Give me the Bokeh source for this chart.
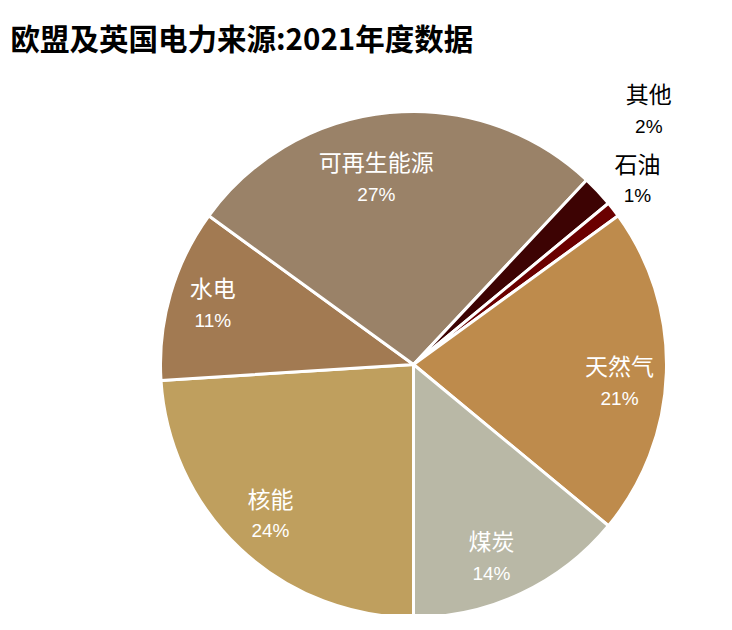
import numpy as np
from bokeh.plotting import figure
from bokeh.models import Range1d, Label, ColumnDataSource
from bokeh.embed import file_html
from bokeh.resources import INLINE
from bokeh.core.properties import value

# ---------------- data ----------------
title_text = "欧盟及英国电力来源:2021年度数据"
categories = ["核能", "水电", "可再生能源", "其他", "石油", "天然气", "煤炭"]
shares = [24, 11, 27, 2, 1, 21, 14]
colors = ["#BF9F5E", "#A27A52", "#9A8268", "#3D0303", "#6B0000", "#BE8B4C", "#B9B8A6"]
outside = ["其他", "石油"]

# ---------------- geometry / style ----------------
W, H = 716, 614
CX, CY = 413, 250          # pie centre (data units = px)
R = 253
START_CLOCK = 180          # first slice starts at 6 o'clock, going clockwise
LABEL_R = 209
LABEL_TWEAK = {"可再生能源": (188, -6.0), "天然气": (207, 3.7), "煤炭": (210, 3.4),
               "其他": (345, -3.8), "石油": (289, -1.4)}

vals = np.array(shares, dtype=float)
frac = vals / vals.sum()
c_end = START_CLOCK + np.cumsum(frac) * 360.0
c_start = c_end - frac * 360.0
start_ang = np.radians(90.0 - c_end)
end_ang = np.radians(90.0 - c_start)

src = ColumnDataSource(dict(cat=categories, start=start_ang, end=end_ang, color=colors))

p = figure(width=W, height=H, x_range=Range1d(0, W), y_range=Range1d(0, H),
           x_axis_type=None, y_axis_type=None, toolbar_location=None,
           output_backend="svg", min_border=0, outline_line_color=None)
p.grid.visible = False

p.wedge(x=CX, y=CY, radius=R, start_angle="start", end_angle="end",
        direction="anticlock", fill_color="color", line_color="white",
        line_width=3, source=src)

lx, ly, names, pcts, tcol = [], [], [], [], []
for cat, s, a, b in zip(categories, shares, c_start, c_end):
    mid = (a + b) / 2.0
    r, d = LABEL_TWEAK.get(cat, (LABEL_R, 0.0))
    ang = np.radians(mid + d)
    lx.append(CX + r * np.sin(ang))
    ly.append(CY + r * np.cos(ang))
    names.append(cat)
    pcts.append(f"{s}%")
    tcol.append("black" if cat in outside else "white")

lab = ColumnDataSource(dict(x=lx, yn=[y + 19 for y in ly], yp=[y - 14 for y in ly],
                            name=names, pct=pcts, col=tcol))
p.text(x="x", y="yn", text="name", text_color="col", text_align="center",
       text_baseline="middle", text_font=value("Noto Sans CJK SC"),
       text_font_size="23px", source=lab)
p.text(x="x", y="yp", text="pct", text_color="col", text_align="center",
       text_baseline="middle", text_font=value("Liberation Sans Narrow, Liberation Sans"),
       text_font_size="19px", source=lab)

p.add_layout(Label(x=10, y=H - 36, x_units="screen", y_units="screen",
                   text=title_text, text_font="Noto Sans CJK SC", text_font_size="29.5px",
                   text_font_style="bold", text_baseline="middle", text_color="black"))

open("out.html", "w").write(file_html(p, INLINE))
